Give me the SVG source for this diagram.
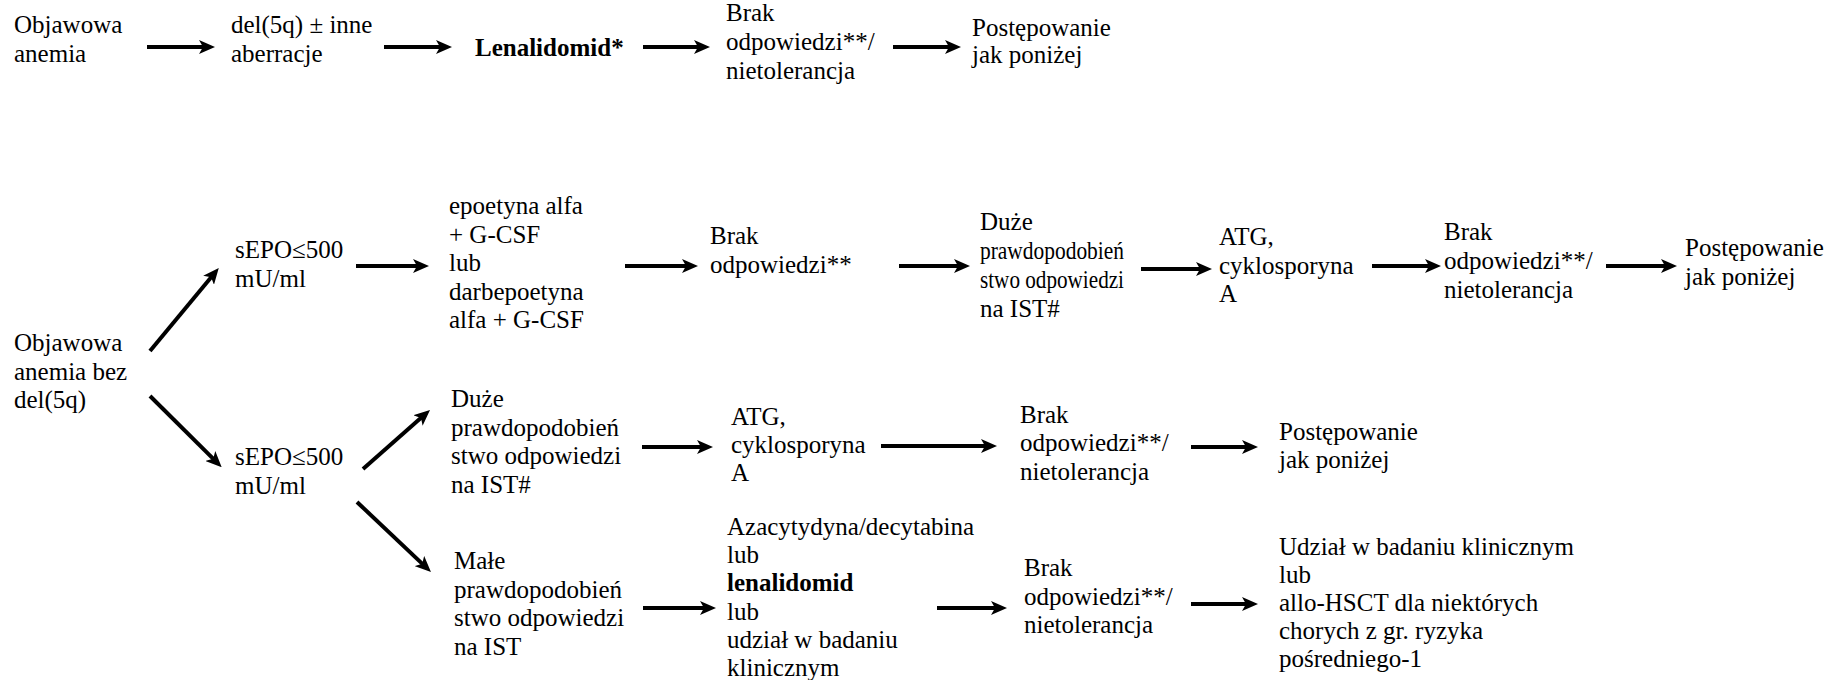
<svg xmlns="http://www.w3.org/2000/svg" width="1843" height="680" viewBox="0 0 1843 680">
<style>
text{font-family:"Liberation Serif","Times New Roman",serif;font-size:25px;fill:#000}
.b{font-weight:bold}
.c line{stroke:#000;stroke-width:4;marker-end:url(#ah)}
</style>
<defs>
<marker id="ah" markerUnits="userSpaceOnUse" viewBox="0 0 16 14" markerWidth="16" markerHeight="14" refX="6" refY="7" orient="auto">
<path d="M0,0 L16,7 L0,14 L4,7 z" fill="#000"/>
</marker>
</defs>
<rect width="1843" height="680" fill="#fff"/>
<g id="n1"><text x="14" y="33">Objawowa<tspan x="14" dy="28.5">anemia</tspan></text></g>
<g id="n2"><text x="231" y="33">del(5q) ± inne<tspan x="231" dy="28.5">aberracje</tspan></text></g>
<g id="n3"><text class="b" x="475" y="56">Lenalidomid*</text></g>
<g id="n4"><text x="726" y="21">Brak<tspan x="726" dy="29">odpowiedzi**/</tspan><tspan x="726" dy="29">nietolerancja</tspan></text></g>
<g id="n5"><text x="972" y="36">Postępowanie<tspan x="972" dy="27">jak poniżej</tspan></text></g>

<g id="n6"><text x="14" y="351">Objawowa<tspan x="14" dy="28.5">anemia bez</tspan><tspan x="14" dy="28.5">del(5q)</tspan></text></g>
<g id="n7"><text x="235" y="258">sEPO≤500<tspan x="235" dy="28.5">mU/ml</tspan></text></g>
<g id="n8"><text x="449" y="214">epoetyna alfa<tspan x="449" dy="28.5">+ G-CSF</tspan><tspan x="449" dy="28.5">lub</tspan><tspan x="449" dy="28.5">darbepoetyna</tspan><tspan x="449" dy="28.5">alfa + G-CSF</tspan></text></g>
<g id="n9"><text x="710" y="244">Brak<tspan x="710" dy="28.5">odpowiedzi**</tspan></text></g>
<g id="n10"><text x="980" y="230">Duże<tspan x="980" dy="29" textLength="144" lengthAdjust="spacingAndGlyphs">prawdopodobień</tspan><tspan x="980" dy="29" textLength="144" lengthAdjust="spacingAndGlyphs">stwo odpowiedzi</tspan><tspan x="980" dy="29">na IST#</tspan></text></g>
<g id="n11"><text x="1219" y="245">ATG,<tspan x="1219" dy="28.5">cyklosporyna</tspan><tspan x="1219" dy="28.5">A</tspan></text></g>
<g id="n12"><text x="1444" y="240">Brak<tspan x="1444" dy="29">odpowiedzi**/</tspan><tspan x="1444" dy="29">nietolerancja</tspan></text></g>
<g id="n13"><text x="1685" y="256">Postępowanie<tspan x="1685" dy="29">jak poniżej</tspan></text></g>

<g id="n14"><text x="235" y="465">sEPO≤500<tspan x="235" dy="28.5">mU/ml</tspan></text></g>
<g id="n15"><text x="451" y="407">Duże<tspan x="451" dy="28.5">prawdopodobień</tspan><tspan x="451" dy="28.5">stwo odpowiedzi</tspan><tspan x="451" dy="28.5">na IST#</tspan></text></g>
<g id="n16"><text x="731" y="425">ATG,<tspan x="731" dy="28">cyklosporyna</tspan><tspan x="731" dy="28">A</tspan></text></g>
<g id="n17"><text x="1020" y="423">Brak<tspan x="1020" dy="28.3">odpowiedzi**/</tspan><tspan x="1020" dy="28.3">nietolerancja</tspan></text></g>
<g id="n18"><text x="1279" y="440">Postępowanie<tspan x="1279" dy="28">jak poniżej</tspan></text></g>

<g id="n19"><text x="454" y="569">Małe<tspan x="454" dy="28.5">prawdopodobień</tspan><tspan x="454" dy="28.5">stwo odpowiedzi</tspan><tspan x="454" dy="28.5">na IST</tspan></text></g>
<g id="n20"><text x="727" y="535">Azacytydyna/decytabina<tspan x="727" dy="28.2">lub</tspan><tspan class="b" x="727" dy="28.2">lenalidomid</tspan><tspan x="727" dy="28.2">lub</tspan><tspan x="727" dy="28.2">udział w badaniu</tspan><tspan x="727" dy="28.2">klinicznym</tspan></text></g>
<g id="n21"><text x="1024" y="576">Brak<tspan x="1024" dy="28.5">odpowiedzi**/</tspan><tspan x="1024" dy="28.5">nietolerancja</tspan></text></g>
<g id="n22"><text x="1279" y="555">Udział w badaniu klinicznym<tspan x="1279" dy="28">lub</tspan><tspan x="1279" dy="28">allo-HSCT dla niektórych</tspan><tspan x="1279" dy="28">chorych z gr. ryzyka</tspan><tspan x="1279" dy="28">pośredniego-1</tspan></text></g>

<g id="connectors" class="c">
<line x1="147" y1="47" x2="205" y2="47"/>
<line x1="384" y1="47" x2="442" y2="47"/>
<line x1="643" y1="47" x2="700" y2="47"/>
<line x1="893" y1="47" x2="951" y2="47"/>

<line x1="150" y1="351" x2="212.4" y2="275.7"/>
<line x1="150" y1="396" x2="214.6" y2="460.2"/>
<line x1="356" y1="266" x2="419" y2="266"/>
<line x1="625" y1="266" x2="688" y2="266"/>
<line x1="899" y1="266" x2="960" y2="266"/>
<line x1="1141" y1="269" x2="1202" y2="269"/>
<line x1="1372" y1="266" x2="1431" y2="266"/>
<line x1="1606" y1="266" x2="1667" y2="266"/>

<line x1="363" y1="469" x2="422.5" y2="416.6"/>
<line x1="357" y1="502" x2="423.7" y2="565.1"/>
<line x1="642" y1="447" x2="703" y2="447"/>
<line x1="881" y1="446" x2="987" y2="446"/>
<line x1="1191" y1="447" x2="1248" y2="447"/>
<line x1="643" y1="608" x2="706" y2="608"/>
<line x1="937" y1="608" x2="997" y2="608"/>
<line x1="1191" y1="604" x2="1248" y2="604"/>
</g>
</svg>
